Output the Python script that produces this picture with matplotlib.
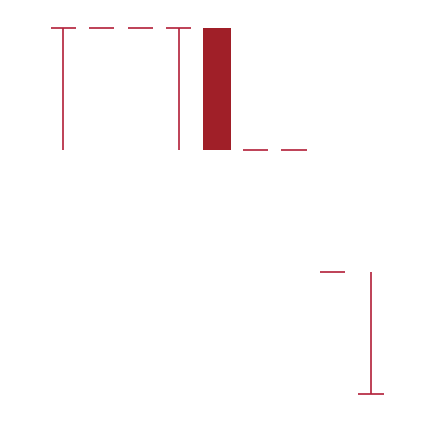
import numpy as np
import matplotlib
matplotlib.use("Agg")
import matplotlib.pyplot as plt

# Data: nine columns, values on a 0-3 scale
positions = np.arange(9)
tick_level = [3, 3, 3, 3, np.nan, 2, 2, 1, 0]
stem_low = [2, np.nan, np.nan, 2, np.nan, np.nan, np.nan, np.nan, 0]
stem_high = [3, np.nan, np.nan, 3, np.nan, np.nan, np.nan, np.nan, 1]
bar_low = [np.nan, np.nan, np.nan, np.nan, 2, np.nan, np.nan, np.nan, np.nan]
bar_high = [np.nan, np.nan, np.nan, np.nan, 3, np.nan, np.nan, np.nan, np.nan]

line_color = "#b3203a"
bar_color = "#a01f28"

fig = plt.figure(figsize=(4.34, 4.22), dpi=100)
ax = fig.add_axes([0, 0, 1, 1])

# horizontal ticks / caps
tl = np.array(tick_level, dtype=float)
m = ~np.isnan(tl)
ax.hlines(tl[m], positions[m] - 0.33, positions[m] + 0.33, color=line_color, lw=1.2)

# vertical stems
lo = np.array(stem_low, dtype=float)
hi = np.array(stem_high, dtype=float)
m = ~np.isnan(lo)
ax.vlines(positions[m], lo[m], hi[m], color=line_color, lw=1.2)

# filled bar
bl = np.array(bar_low, dtype=float)
bh = np.array(bar_high, dtype=float)
m = ~np.isnan(bl)
ax.bar(positions[m], bh[m] - bl[m], bottom=bl[m], width=0.72, color=bar_color)

ax.set_xlim(-1.646, 9.639)
ax.set_ylim(-0.2295, 3.2295)
ax.axis("off")

fig.savefig("out.png", dpi=100)
